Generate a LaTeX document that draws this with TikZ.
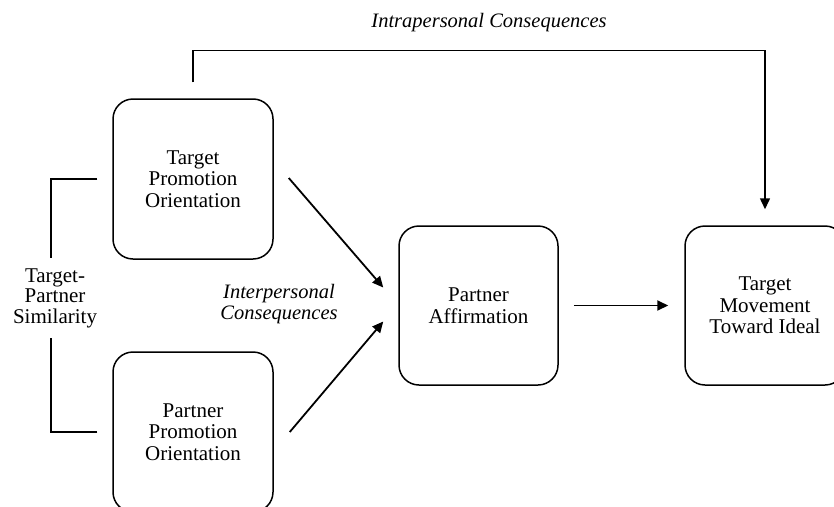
\documentclass[tikz,border=0pt]{standalone}
\usepackage{fontspec}
\setmainfont{Liberation Serif}
\usetikzlibrary{arrows.meta}
\begin{document}
\begin{tikzpicture}[x=1pt,y=-1pt,
  box/.style={draw,line width=1.5pt,rounded corners=20pt,minimum width=160pt,minimum height=160pt,align=center,inner sep=0pt,
    font=\fontsize{21}{21.5}\selectfont},
  lbl/.style={align=center,inner sep=0pt,font=\fontsize{21}{20.5}\selectfont},
  ilbl/.style={lbl,font=\fontsize{20.5}{20.5}\selectfont\itshape},
  conn/.style={line width=1.5pt},
  arr/.style={line width=1.8pt,-{Triangle[length=11pt,width=10pt]}}]
\useasboundingbox (0,0) rectangle (834,506);
\clip (0,0) rectangle (834,506);
\node[box] (tpo) at (193,179) {Target\\Promotion\\Orientation};
\node[box] (bpo) at (193,432) {Partner\\Promotion\\Orientation};
\node[box,minimum width=159pt,minimum height=159pt] (pa) at (478.5,305.5) {Partner\\Affirmation};
\node[box,minimum width=160pt,minimum height=159pt] (tmi) at (765,305.5) {Target\\Movement\\Toward Ideal};
\node[lbl,minimum height=80pt] (sim) at (55,298) {Target-\\Partner\\Similarity};
\node[ilbl] (intra) at (489,23) {Intrapersonal Consequences};
\node[ilbl] (inter) at (279,304) {Interpersonal\\Consequences};
% top loop
\draw[arr,line width=1.5pt,shorten <=16pt,shorten >=16pt] (tpo.north) -- ++(0,-48) -| (tmi.north);
% similarity bracket
\draw[conn] ([xshift=-15pt]tpo.west) -| ([xshift=-4pt]sim.north);
\draw[conn] ([xshift=-15pt]bpo.west) -| ([xshift=-4pt]sim.south);
% arrows to affirmation
\draw[arr] ([xshift=15pt,yshift=1pt]tpo.east) -- ([xshift=-15pt,yshift=18pt]pa.west);
\draw[arr] ([xshift=16pt]bpo.east) -- ([xshift=-15pt,yshift=-16pt]pa.west);
\draw[arr] ([xshift=15pt]pa.east) -- ([xshift=-16pt]tmi.west);
\end{tikzpicture}
\end{document}
